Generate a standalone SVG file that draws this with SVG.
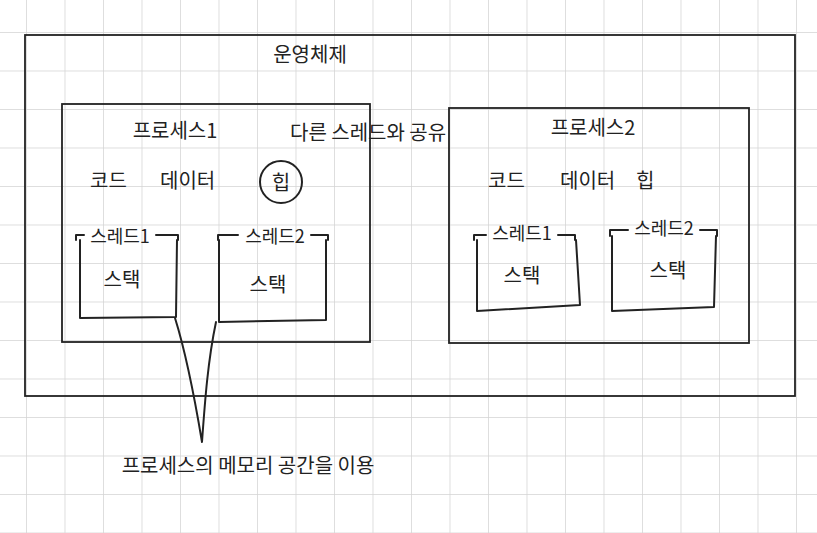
<svg xmlns="http://www.w3.org/2000/svg" width="817" height="533" viewBox="0 0 817 533">
<defs>
<pattern id="grid" x="26" y="32" width="38.5" height="38.5" patternUnits="userSpaceOnUse">
<path d="M0 0V38.5M0 0H38.5" fill="none" stroke="#d4d4d4" stroke-width="1.5"/>
</pattern>
</defs>
<style>
.box{fill:none;stroke:#222;stroke-width:1.8}
.hand{fill:none;stroke:#222;stroke-width:2;stroke-linecap:round;stroke-linejoin:round}
text{font-family:"Noto Sans CJK KR","Noto Sans",sans-serif;font-size:20px;fill:#222}
.sm{font-size:18px}
</style>
<rect width="817" height="533" fill="#fff"/>
<rect width="817" height="533" fill="url(#grid)"/>
<g id="os">
<rect class="box" x="25" y="35" width="770" height="361"/>
<text x="310" y="62" text-anchor="middle">운영체제</text>
</g>
<g id="process1">
<rect class="box" x="62" y="104" width="308" height="238"/>
<text x="175" y="138" text-anchor="middle">프로세스1</text>
<text x="90" y="188">코드</text>
<text x="160" y="188">데이터</text>
<circle class="hand" cx="281" cy="182" r="21"/>
<text x="281" y="190" text-anchor="middle">힙</text>
<text x="290" y="140">다른 스레드와 공유</text>
</g>
<g id="p1-thread1">
<path class="hand" d="M76 240V235H84M156 235H178V240M80 240V318L176 317L177 240"/>
<text class="sm" x="120" y="243" text-anchor="middle">스레드1</text>
<text x="122" y="287" text-anchor="middle">스택</text>
</g>
<g id="p1-thread2">
<path class="hand" d="M218 240V235H238M311 235H328V240M219 240V322L326 320V240"/>
<text class="sm" x="275" y="243" text-anchor="middle">스레드2</text>
<text x="268" y="292" text-anchor="middle">스택</text>
</g>
<g id="process2">
<rect class="box" x="449" y="108" width="300" height="235"/>
<text x="593" y="135" text-anchor="middle">프로세스2</text>
<text x="488" y="188">코드</text>
<text x="560" y="188">데이터</text>
<text x="636" y="188">힙</text>
</g>
<g id="p2-thread1">
<path class="hand" d="M474 240V235H486M558 235H575V240M477 240V311L580 305L576 240"/>
<text class="sm" x="522" y="240" text-anchor="middle">스레드1</text>
<text x="522" y="283" text-anchor="middle">스택</text>
</g>
<g id="p2-thread2">
<path class="hand" d="M610 236V230H628M700 230H717V236M612 236V311L714 307L716 236"/>
<text class="sm" x="664" y="235" text-anchor="middle">스레드2</text>
<text x="668" y="278" text-anchor="middle">스택</text>
</g>
<g id="connectors">
<path class="hand" d="M175 318C185 350 195 400 202 442C205 400 208 360 216 322"/>
</g>
<g id="note">
<text x="248" y="473" text-anchor="middle">프로세스의 메모리 공간을 이용</text>
</g>
</svg>
